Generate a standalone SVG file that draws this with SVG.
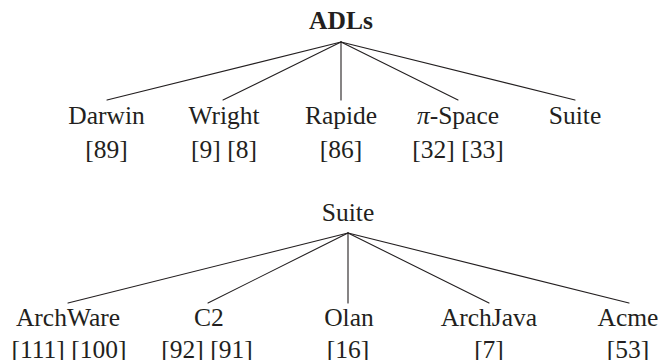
<svg xmlns="http://www.w3.org/2000/svg" width="662" height="360" viewBox="0 0 662 360">
  <style>
    text { font-family: 'Liberation Serif', 'DejaVu Serif', 'Noto Serif', Times, serif; font-size: 25.5px; fill: #231f20; text-anchor: middle; }
    .root { font-weight: bold; }
    .edge { stroke: #231f20; stroke-width: 1.1; fill: none; stroke-linecap: round; }
  </style>
  <rect width="662" height="360" fill="#ffffff"/>

  <!-- tree edges: ADLs (upper) and Suite (lower) -->
  <g id="connectors">
    <line class="edge" x1="341" y1="42" x2="107" y2="100"/>
    <line class="edge" x1="341" y1="42" x2="223" y2="100"/>
    <line class="edge" x1="341" y1="42" x2="341" y2="100"/>
    <line class="edge" x1="341" y1="42" x2="458" y2="100"/>
    <line class="edge" x1="341" y1="42" x2="575" y2="100"/>

    <line class="edge" x1="348" y1="233" x2="68" y2="303"/>
    <line class="edge" x1="348" y1="233" x2="208" y2="303"/>
    <line class="edge" x1="348" y1="233" x2="348" y2="303"/>
    <line class="edge" x1="348" y1="233" x2="489" y2="303"/>
    <line class="edge" x1="348" y1="233" x2="629" y2="303"/>
  </g>

  <g id="adls"><text class="root" x="341" y="29">ADLs</text></g>
  <g id="darwin"><text x="106.5" y="124">Darwin</text><text x="106.5" y="158">[89]</text></g>
  <g id="wright"><text x="224" y="124">Wright</text><text x="224" y="158">[9] [8]</text></g>
  <g id="rapide"><text x="341" y="124">Rapide</text><text x="341" y="158">[86]</text></g>
  <g id="pi-space"><text x="458" y="124"><tspan font-style="italic">π</tspan>-Space</text><text x="458" y="158">[32] [33]</text></g>
  <g id="suite-leaf"><text x="575" y="124">Suite</text></g>

  <g id="suite"><text x="348" y="221">Suite</text></g>
  <g id="archware"><text x="68" y="326">ArchWare</text><text x="69" y="358">[111] [100]</text></g>
  <g id="c2"><text x="209" y="326">C2</text><text x="207" y="358">[92] [91]</text></g>
  <g id="olan"><text x="349" y="326">Olan</text><text x="348" y="358">[16]</text></g>
  <g id="archjava"><text x="489" y="326">ArchJava</text><text x="489" y="358">[7]</text></g>
  <g id="acme"><text x="628" y="326">Acme</text><text x="628" y="358">[53]</text></g>
</svg>
